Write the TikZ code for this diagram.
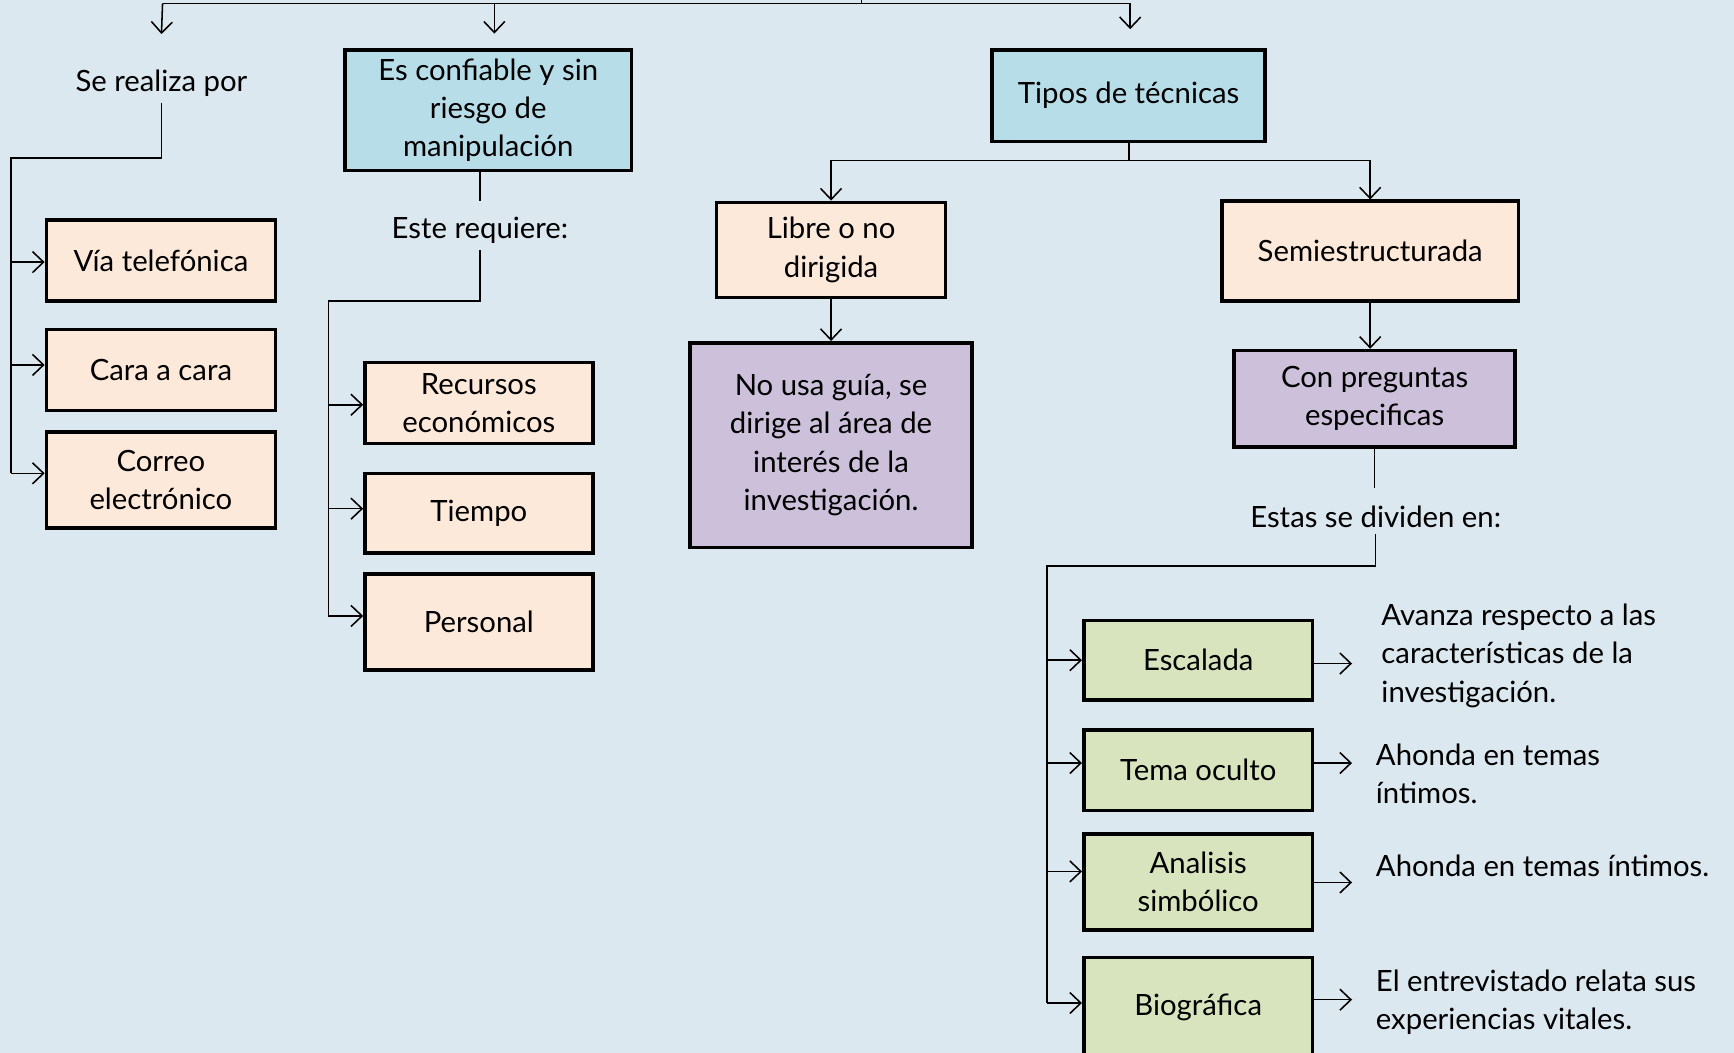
\documentclass[tikz,border=0pt]{standalone}
\usepackage{fontspec}
\setmainfont{Lato}
\usetikzlibrary{arrows.meta}
\definecolor{bgc}{HTML}{DCE8EF}
\definecolor{peach}{HTML}{FDE9D9}
\definecolor{lblue}{HTML}{B7DDE8}
\definecolor{lpurp}{HTML}{CCC0DA}
\definecolor{lgreen}{HTML}{D7E4BD}
\begin{document}
\begin{tikzpicture}[x=1pt,y=-1pt,
  font=\fontsize{26.5}{34.5}\selectfont,
  box/.style={draw=black, line width=3.2pt, align=center, inner sep=2pt},
  peachbox/.style={box, fill=peach},
  bluebox/.style={box, fill=lblue},
  purpbox/.style={box, fill=lpurp},
  greenbox/.style={box, fill=lgreen},
  lbl/.style={inner sep=2pt, align=center},
  note/.style={inner sep=0pt, align=left, anchor=west},
  ln/.style={line width=1.4pt},
  arr/.style={ln, -{Straight Barb[length=10pt,width=19pt,line width=1.4pt]}}]
\fill[bgc] (0,0) rectangle (1568,952);
\useasboundingbox (0,0) rectangle (1568,952);

% ---------- nodes ----------
\node[lbl] (sr) at (146,75) {Se realiza por};
\node[peachbox, minimum width=207pt, minimum height=73pt] (via) at (145.5,235.5) {Vía telefónica};
\node[peachbox, minimum width=207pt, minimum height=73pt] (cara) at (145.5,334.5) {Cara a cara};
\node[peachbox, minimum width=207pt, minimum height=87pt] (correo) at (145.5,434) {Correo\\electrónico};

\node[bluebox, minimum width=259pt, minimum height=109pt] (conf) at (441.5,99.5) {Es confiable y sin\\riesgo de\\manipulación};
\node[lbl] (er) at (434,208) {Este requiere:};
\node[peachbox, minimum width=206pt, minimum height=73pt] (rec) at (433,364.5) {Recursos\\económicos};
\node[peachbox, minimum width=206pt, minimum height=72pt] (tie) at (433,464) {Tiempo};
\node[peachbox, minimum width=206pt, minimum height=87pt] (per) at (433,562.5) {Personal};

\node[bluebox, minimum width=247pt, minimum height=83pt] (tipos) at (1020.5,86.5) {Tipos de técnicas};
\node[peachbox, minimum width=207pt, minimum height=86pt] (libre) at (751.5,226) {Libre o no\\dirigida};
\node[purpbox, minimum width=255pt, minimum height=185pt] (nousa) at (751.5,402.5) {No usa guía, se\\dirige al área de\\interés de la\\investigación.};
\node[peachbox, minimum width=268pt, minimum height=90pt] (semi) at (1239,227) {Semiestructurada};
\node[purpbox, minimum width=254pt, minimum height=87pt] (cp) at (1243,360.5) {Con preguntas\\especificas};
\node[lbl] (esd) at (1244,467) {Estas se dividen en:};

\node[greenbox, minimum width=207pt, minimum height=72pt] (esc) at (1083.5,597) {Escalada};
\node[greenbox, minimum width=207pt, minimum height=73pt] (tem) at (1083.5,696.5) {Tema oculto};
\node[greenbox, minimum width=207pt, minimum height=87pt] (ana) at (1083.5,797.5) {Analisis\\simbólico};
\node[greenbox, minimum width=207pt, minimum height=90pt] (bio) at (1083.5,911) {Biográfica};

\node[note] (n1) at (1249,593) {Avanza respecto a las\\características de la\\investigación.};
\node[note] (n2) at (1244,700) {Ahonda en temas\\íntimos.};
\node[note] (n3) at (1244,783) {Ahonda en temas íntimos.};
\node[note] (n4) at (1244,906) {El entrevistado relata sus\\experiencias vitales.};

% ---------- connectors ----------
\coordinate (tm) at (779,0);
\coordinate (tl) at (147,3);
\coordinate (tr) at (1022,3);
\draw[ln] (tl) -- (tr);
\draw[ln] (tm) -- (tm |- tl);
\draw[arr] (tl) -- ([yshift=30pt]sr.north);
\draw[arr] (tl -| 447,0) -- ([xshift=5.5pt,yshift=13pt]conf.north);
\draw[arr] (tr) -- ([xshift=1.5pt,yshift=17pt]tipos.north);

% left branch
\coordinate (lx) at (10,143);
\draw[ln] ([yshift=-4pt]sr.south) -- (sr.south |- lx) -- (lx) -- (10,428);
\draw[arr] (lx |- 0,237) -- (via.west |- 0,237);
\draw[arr] (lx |- 0,330) -- (cara.west |- 0,330);
\draw[arr] (lx |- 0,428) -- (correo.west |- 0,428);

% middle branch
\coordinate (mx) at (297,272);
\draw[ln] (er.north |- conf.south) -- ++(0,26);
\draw[ln] ([yshift=-4pt]er.south) -- (er.south |- mx) -- (mx) -- (297,557);
\draw[arr] (mx |- 0,366) -- (rec.west |- 0,366);
\draw[arr] (mx |- 0,460) -- (tie.west |- 0,460);
\draw[arr] (mx |- 0,557) -- (per.west |- 0,557);

% right branch
\coordinate (rh) at (1021,145);
\draw[ln] (rh |- tipos.south) -- (rh);
\draw[ln] (libre.north |- rh) -- (semi.north |- rh);
\draw[arr] (libre.north |- rh) -- (libre.north);
\draw[arr] (semi.north |- rh) -- (semi.north);
\draw[arr] (libre.south) -- (nousa.north);
\draw[arr] (semi.south) -- (semi.south |- cp.north);
\draw[ln] (cp.south) -- ++(0,36);
\coordinate (gx) at (947,512);
\draw[ln] ([yshift=-4pt]esd.south) -- (esd.south |- gx) -- (gx) -- (947,907);
\draw[arr] (gx |- 0,597) -- (esc.west |- 0,597);
\draw[arr] (gx |- 0,690) -- (tem.west |- 0,690);
\draw[arr] (gx |- 0,788) -- (ana.west |- 0,788);
\draw[arr] (gx |- 0,907) -- (bio.west |- 0,907);

\draw[arr] (esc.east |- 0,600) -- ++(34,0);
\draw[arr] (tem.east |- 0,690) -- ++(34,0);
\draw[arr] (ana.east |- 0,798) -- ++(34,0);
\draw[arr] (bio.east |- 0,904) -- ++(34,0);
\end{tikzpicture}
\end{document}
